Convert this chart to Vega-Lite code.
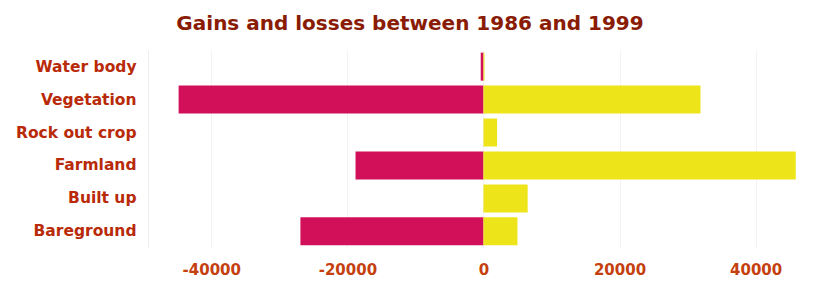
{
  "$schema": "https://vega.github.io/schema/vega-lite/v6.json",
  "autosize": "none",
  "width": 660,
  "height": 198,
  "padding": {"left": 148, "top": 50, "right": 13, "bottom": 38},
  "background": "#ffffff",
  "title": {
    "text": "Gains and losses between 1986 and 1999",
    "font": "DejaVu Sans",
    "fontSize": 20,
    "fontWeight": "bold",
    "color": "#8a1c05",
    "anchor": "middle",
    "dx": -68,
    "offset": 16
  },
  "data": {
    "values": [
      {"class": "Water body", "type": "Loss", "value": -400},
      {"class": "Water body", "type": "Gain", "value": 150},
      {"class": "Vegetation", "type": "Loss", "value": -44800},
      {"class": "Vegetation", "type": "Gain", "value": 31900},
      {"class": "Rock out crop", "type": "Loss", "value": 0},
      {"class": "Rock out crop", "type": "Gain", "value": 2000},
      {"class": "Farmland", "type": "Loss", "value": -18800},
      {"class": "Farmland", "type": "Gain", "value": 45900},
      {"class": "Built up", "type": "Loss", "value": 0},
      {"class": "Built up", "type": "Gain", "value": 6500},
      {"class": "Bareground", "type": "Loss", "value": -26900},
      {"class": "Bareground", "type": "Gain", "value": 5000}
    ]
  },
  "mark": {"type": "bar"},
  "encoding": {
    "y": {
      "field": "class",
      "type": "nominal",
      "sort": ["Water body", "Vegetation", "Rock out crop", "Farmland", "Built up", "Bareground"],
      "scale": {"paddingInner": 0.15, "paddingOuter": 0.08},
      "axis": {
        "title": null,
        "labelFont": "DejaVu Sans",
        "labelFontSize": 15.5,
        "labelFontWeight": "bold",
        "labelColor": "#b82a08",
        "labelPadding": 12,
        "ticks": false,
        "domain": true,
        "domainColor": "#eeeeee",
        "grid": false
      }
    },
    "x": {
      "field": "value",
      "type": "quantitative",
      "stack": "zero",
      "scale": {"domain": [-49300, 47700], "nice": false, "zero": true},
      "axis": {
        "title": null,
        "values": [-40000, -20000, 0, 20000, 40000],
        "labelExpr": "datum.value < 0 ? '-' + abs(datum.value) : '' + datum.value",
        "labelFont": "DejaVu Sans",
        "labelFontSize": 15,
        "labelFontWeight": "bold",
        "labelColor": "#c4400e",
        "labelPadding": 14,
        "ticks": false,
        "domain": false,
        "grid": true,
        "gridColor": "#f2f2f2"
      }
    },
    "color": {
      "field": "type",
      "type": "nominal",
      "scale": {"domain": ["Loss", "Gain"], "range": ["#d2105a", "#eee41a"]},
      "legend": null
    },
    "order": {"field": "type", "sort": "descending"}
  },
  "config": {"view": {"stroke": null}}
}
